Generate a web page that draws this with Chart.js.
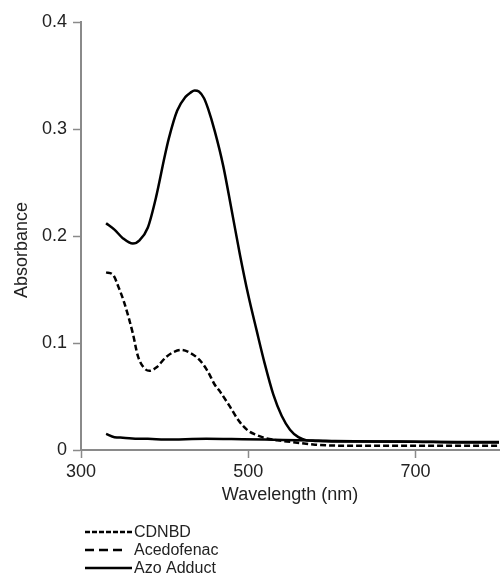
<!DOCTYPE html>
<html>
<head>
<meta charset="utf-8">
<script src="https://cdn.jsdelivr.net/npm/chart.js@4/dist/chart.umd.min.js"></script>
<style>
  body { margin: 0; background: #fff; }
</style>
</head>
<body>
<canvas id="spectra" width="500" height="576"></canvas>
<script>
// values
const seriesNames = ["CDNBD", "Acedofenac", "Azo Adduct"];

const cdnbdNm  = [330, 338, 345, 352, 362, 368, 375, 382, 390, 402, 412, 420, 430, 442, 452, 460, 465, 477, 489, 500, 510, 521, 535, 552, 580, 620, 700, 750, 800];
const cdnbdAbs = [0.166, 0.164, 0.152, 0.137, 0.109, 0.088, 0.077, 0.074, 0.077, 0.087, 0.092, 0.0935, 0.091, 0.084, 0.073, 0.061, 0.056, 0.042, 0.027, 0.018, 0.014, 0.011, 0.009, 0.0075, 0.005, 0.004, 0.004, 0.004, 0.004];

const acedoNm  = [330, 340, 350, 370, 380, 400, 450, 480, 520, 560, 600, 650, 700, 750, 800];
const acedoAbs = [0.015, 0.012, 0.0115, 0.0105, 0.0105, 0.0098, 0.0105, 0.0102, 0.0098, 0.009, 0.0085, 0.008, 0.0078, 0.0075, 0.0075];

const azoNm  = [330, 340, 350, 362, 370, 380, 390, 400, 405, 415, 425, 431, 436, 441, 447, 452, 460, 470, 480, 490, 500, 510, 520, 530, 540, 550, 560, 570, 580, 600, 650, 700, 750, 800];
const azoAbs = [0.212, 0.206, 0.198, 0.193, 0.196, 0.208, 0.237, 0.274, 0.291, 0.317, 0.330, 0.334, 0.336, 0.335, 0.329, 0.319, 0.298, 0.266, 0.225, 0.183, 0.145, 0.112, 0.08, 0.052, 0.032, 0.019, 0.012, 0.009, 0.0085, 0.008, 0.008, 0.0078, 0.007, 0.007];

const xTicks = [300, 500, 700];
const yTicks = [0, 0.1, 0.2, 0.3, 0.4];

const font = "'Liberation Sans', Arial, sans-serif";

function pts(xs, ys) {
  return xs.map((x, i) => ({ x: x, y: ys[i] }));
}

// legend under the plot and the y title, drawn by hand
const extras = {
  id: 'extras',
  afterDraw(chart) {
    const ctx = chart.ctx;
    const rows = [532, 550, 568];
    ctx.save();
    chart.data.datasets.forEach((ds, i) => {
      ctx.beginPath();
      ctx.lineWidth = 2.5;
      ctx.strokeStyle = '#000';
      ctx.setLineDash(ds.legendDash);
      ctx.moveTo(85, rows[i]);
      ctx.lineTo(ds.legendEnd, rows[i]);
      ctx.stroke();
      ctx.setLineDash([]);
      ctx.fillStyle = '#222';
      ctx.font = '16px ' + font;
      ctx.textBaseline = 'middle';
      ctx.fillText(ds.label, 134, rows[i] + 1);
    });
    ctx.translate(22, 250);
    ctx.rotate(-Math.PI / 2);
    ctx.font = '18px ' + font;
    ctx.textAlign = 'center';
    ctx.textBaseline = 'middle';
    ctx.fillText('Absorbance', 0, 0);
    ctx.restore();
  }
};

const cfg = {
  type: 'line',
  data: {
    datasets: [
      { label: seriesNames[0], data: pts(cdnbdNm, cdnbdAbs), borderDash: [6, 3], legendDash: [5, 2], legendEnd: 132 },
      { label: seriesNames[1], data: pts(acedoNm, acedoAbs), borderDash: [], legendDash: [9, 5], legendEnd: 123 },
      { label: seriesNames[2], data: pts(azoNm, azoAbs), borderDash: [], legendDash: [], legendEnd: 132 }
    ].map(d => Object.assign(d, {
      borderColor: '#000',
      borderWidth: 2.5,
      pointRadius: 0,
      cubicInterpolationMode: 'monotone',
      fill: false
    }))
  },
  options: {
    responsive: false,
    animation: false,
    layout: { padding: { top: 22, right: 1, bottom: 66, left: 0 } },
    plugins: { legend: { display: false }, tooltip: { enabled: false } },
    scales: {
      x: {
        type: 'linear',
        min: 300,
        max: 800,
        afterFit(s) { s.height = 60; },
        afterBuildTicks(s) { s.ticks = xTicks.map(v => ({ value: v })); },
        border: { color: '#8a8a8a', width: 2 },
        grid: { drawOnChartArea: false, tickLength: 8, tickColor: '#8a8a8a', tickWidth: 1.5 },
        ticks: { color: '#222', font: { family: font, size: 18 }, padding: 3, maxRotation: 0 },
        title: { display: true, text: 'Wavelength (nm)', color: '#222', font: { family: font, size: 18 }, padding: { top: 0, bottom: 4 } }
      },
      y: {
        min: 0,
        max: 0.4,
        afterFit(s) { s.width = 81; },
        afterBuildTicks(s) { s.ticks = yTicks.map(v => ({ value: v })); },
        border: { color: '#8a8a8a', width: 2 },
        grid: { drawOnChartArea: false, tickLength: 8, tickColor: '#8a8a8a', tickWidth: 1.5 },
        ticks: { color: '#222', font: { family: font, size: 18 }, padding: 6, callback: v => String(v) }
      }
    }
  },
  plugins: [extras]
};

const spectraChart = new Chart(document.getElementById('spectra'), cfg);
</script>
</body>
</html>
